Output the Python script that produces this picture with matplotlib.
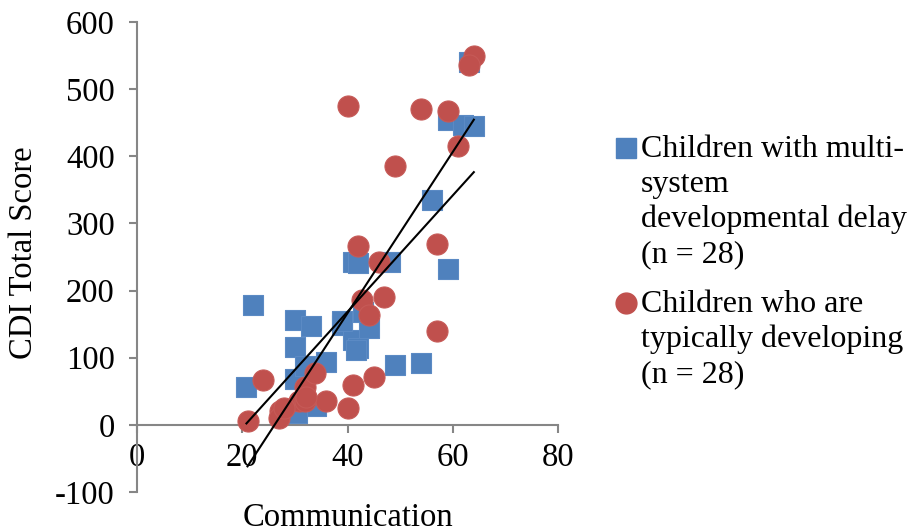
import numpy as np
import matplotlib
matplotlib.use("Agg")
import matplotlib.pyplot as plt
from matplotlib.lines import Line2D

plt.rcParams['font.family'] = ['Liberation Serif', 'DejaVu Serif']
plt.rcParams['axes.unicode_minus'] = False

# children with multi-system developmental delay
delay_x = [22, 20.8, 30, 33, 30, 30, 36, 34, 30.4, 39, 41, 42, 48, 59, 41, 42,
           44, 43, 49, 54, 63, 59, 62, 64, 56, 32, 38.9, 41.7]
delay_y = [179, 56, 156, 147, 116, 68, 94, 28, 17, 149, 243, 241, 242, 232, 127, 115,
           144, 168, 89, 92, 541, 454, 447, 445, 335, 87, 154, 112]

# children who are typically developing
typ_x = [21, 24, 27.2, 27, 30.7, 32, 32, 33.8, 36, 40, 41, 45, 42.7, 44, 42, 46,
         47, 57, 57, 40, 54, 59, 61, 49, 64, 63, 32.2, 28]
typ_y = [6, 67, 20, 10, 35, 35, 57, 77, 35, 25, 60, 72, 186, 164, 266, 242,
         191, 140, 269, 475, 471, 468, 416, 385, 549, 536, 42, 25]

blue = '#4F81BD'
red = '#C0504D'
grey = '#868686'

fig = plt.figure(figsize=(9.09, 5.32), dpi=100)
ax = fig.add_axes([0.1507, 0.0752, 0.4632, 0.8835])

ax.scatter(delay_x, delay_y, s=210, marker='s', color=blue, edgecolors='#5B8AC4',
           linewidths=0.8, zorder=3)
ax.scatter(typ_x, typ_y, s=230, marker='o', color=red, edgecolors='#C65A57',
           linewidths=0.8, zorder=3)

# linear trendlines
for xs, ys in [(delay_x, delay_y), (typ_x, typ_y)]:
    k, b = np.polyfit(xs, ys, 1)
    xx = np.array([min(xs), max(xs)])
    ax.plot(xx, k * xx + b, color='black', lw=1.5, zorder=4)

ax.set_xlim(0, 80)
ax.set_ylim(-100, 600)
ax.set_xticks([0, 20, 40, 60, 80])
ax.set_yticks(range(-100, 601, 100))

for s in ['top', 'right']:
    ax.spines[s].set_visible(False)
ax.spines['bottom'].set_position(('data', 0))
ax.spines['left'].set_color(grey)
ax.spines['bottom'].set_color(grey)
ax.spines['left'].set_linewidth(1.5)
ax.spines['bottom'].set_linewidth(1.5)
ax.tick_params(axis='both', colors=grey, width=1.5, length=6, labelsize=23.5,
               labelcolor='black', direction='out')
ax.tick_params(axis='x', pad=7)
ax.tick_params(axis='y', pad=10)

ax.set_xlabel('Communication', fontsize=23.5)
ax.xaxis.set_label_coords(0.5, -0.022)
ax.set_ylabel('CDI Total Score', fontsize=23.5)
ax.yaxis.set_label_coords(-0.232, 0.51)

# legend drawn by hand so the marker sits on the first line
fig.add_artist(Line2D([626 / 909], [1 - 148 / 532], marker='s', markersize=14.5,
                      color=blue, transform=fig.transFigure))
fig.add_artist(Line2D([626 / 909], [1 - 303 / 532], marker='o', markersize=15,
                      color=red, transform=fig.transFigure))
fig.text(641 / 909, 1 - 135 / 532,
         'Children with multi-\nsystem\ndevelopmental delay\n(n = 28)',
         fontsize=23, va='top', ha='left', linespacing=1.26)
fig.text(641 / 909, 1 - 290 / 532,
         'Children who are\ntypically developing\n(n = 28)',
         fontsize=23, va='top', ha='left', linespacing=1.26)

fig.savefig('out.png', dpi=100)
